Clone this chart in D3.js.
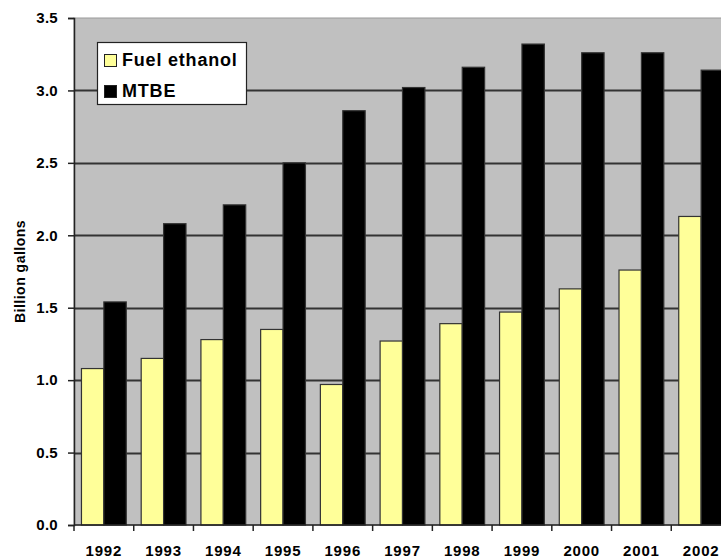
<!DOCTYPE html>
<html>
<head>
<meta charset="utf-8">
<script src="https://cdn.jsdelivr.net/npm/d3@7/dist/d3.min.js"></script>
<style>
  html, body { margin: 0; padding: 0; background: #fff; }
  svg { display: block; font-family: Arial, "Liberation Sans", sans-serif; font-weight: bold; }
</style>
</head>
<body>
<svg id="chart" width="721" height="558"></svg>
<script>
// US consumption of oxygenates, billion gallons
const years = ["1992", "1993", "1994", "1995", "1996", "1997", "1998", "1999", "2000", "2001", "2002"];
const fuelEthanol = [1.08, 1.15, 1.28, 1.35, 0.97, 1.27, 1.39, 1.47, 1.63, 1.76, 2.13];
const mtbe = [1.54, 2.08, 2.21, 2.50, 2.86, 3.02, 3.16, 3.32, 3.26, 3.26, 3.14];
const seriesNames = ["Fuel ethanol", "MTBE"];
const seriesColors = ["#ffff99", "#000000"];
const yTicks = [0, 0.5, 1.0, 1.5, 2.0, 2.5, 3.0, 3.5];

const rows = years.map((y, i) => ({ year: y, values: [fuelEthanol[i], mtbe[i]] }));

const svg = d3.select("#chart");
const plot = { left: 74, top: 18, bottom: 525, right: 731 };

const x0 = d3.scaleBand().domain(years).range([plot.left, plot.right]).paddingInner(0).paddingOuter(0);
const x1 = d3.scaleBand().domain([0, 1]).range([0, x0.bandwidth()]).paddingInner(0).paddingOuter(1 / 3);
const y = d3.scaleLinear().domain([0, 3.5]).range([plot.bottom, plot.top]);

// plot background
svg.append("rect")
  .attr("x", plot.left).attr("y", plot.top)
  .attr("width", plot.right - plot.left).attr("height", plot.bottom - plot.top)
  .attr("fill", "#c0c0c0").attr("stroke", "#9a9a9a").attr("stroke-width", 1);

// horizontal gridlines
svg.append("g")
  .selectAll("line")
  .data(yTicks.filter(t => t > 0 && t < 3.5))
  .join("line")
  .attr("x1", plot.left).attr("x2", plot.right)
  .attr("y1", d => Math.round(y(d)) + 0.5).attr("y2", d => Math.round(y(d)) + 0.5)
  .attr("stroke", "#333").attr("stroke-width", 2);

// bars
svg.append("g")
  .selectAll("g")
  .data(rows)
  .join("g")
  .attr("transform", d => `translate(${x0(d.year)},0)`)
  .selectAll("rect")
  .data(d => d.values.map((v, i) => ({ v, i })))
  .join("rect")
  .attr("x", d => x1(d.i))
  .attr("y", d => y(d.v))
  .attr("width", x1.bandwidth())
  .attr("height", d => y(0) - y(d.v))
  .attr("fill", d => seriesColors[d.i])
  .attr("stroke", "#333")
  .attr("stroke-width", 1.2);

// y axis
const yAxis = d3.axisLeft(y).tickValues(yTicks).tickFormat(d3.format(".1f")).tickSize(6).tickPadding(10);
const gy = svg.append("g").attr("transform", `translate(${plot.left},0)`).call(yAxis);
gy.select(".domain").attr("stroke", "#222").attr("stroke-width", 1.5);
gy.selectAll(".tick line").attr("stroke", "#222").attr("stroke-width", 1.5);
gy.selectAll(".tick text")
  .attr("fill", "#000").style("font-size", "15px").style("font-weight", "bold")
  .style("font-family", "Arial, 'Liberation Sans', sans-serif").style("letter-spacing", "0.3px");

// x axis with ticks at category boundaries
const gx = svg.append("g").attr("transform", `translate(0,${plot.bottom})`);
gx.append("line")
  .attr("x1", plot.left).attr("x2", plot.right).attr("y1", 0).attr("y2", 0)
  .attr("stroke", "#222").attr("stroke-width", 1.5);
gx.selectAll("line.tk")
  .data(years)
  .join("line").attr("class", "tk")
  .attr("x1", d => x0(d)).attr("x2", d => x0(d))
  .attr("y1", 0).attr("y2", 6)
  .attr("stroke", "#222").attr("stroke-width", 1.5);
gx.append("line")
  .attr("x1", x0(years[years.length - 1]) + x0.bandwidth()).attr("x2", x0(years[years.length - 1]) + x0.bandwidth())
  .attr("y1", 0).attr("y2", 6).attr("stroke", "#222").attr("stroke-width", 1.5);
gx.selectAll("text")
  .data(years)
  .join("text")
  .attr("x", d => x0(d) + x0.bandwidth() / 2)
  .attr("y", 31)
  .attr("text-anchor", "middle")
  .style("font-size", "15px").style("letter-spacing", "0.8px")
  .text(d => d);

// y axis title
svg.append("text")
  .attr("transform", `translate(25,${(plot.top + plot.bottom) / 2}) rotate(-90)`)
  .attr("text-anchor", "middle")
  .style("font-size", "14px").style("letter-spacing", "0.5px")
  .text("Billion gallons");

// legend
const legend = svg.append("g").attr("transform", "translate(97,42)");
legend.append("rect")
  .attr("x", 0.5).attr("y", 0.5).attr("width", 149).attr("height", 62)
  .attr("fill", "#fff").attr("stroke", "#222").attr("stroke-width", 1.2);
const items = legend.selectAll("g.item")
  .data(seriesNames)
  .join("g").attr("class", "item")
  .attr("transform", (d, i) => `translate(0,${i * 31})`);
items.append("rect")
  .attr("x", 7.5).attr("y", 12.5).attr("width", 12).attr("height", 12)
  .attr("fill", (d, i) => seriesColors[i]).attr("stroke", "#222").attr("stroke-width", 1);
items.append("text")
  .attr("x", 25).attr("y", 24)
  .style("font-size", "18px").style("letter-spacing", "0.8px")
  .text(d => d);
</script>
</body>
</html>
